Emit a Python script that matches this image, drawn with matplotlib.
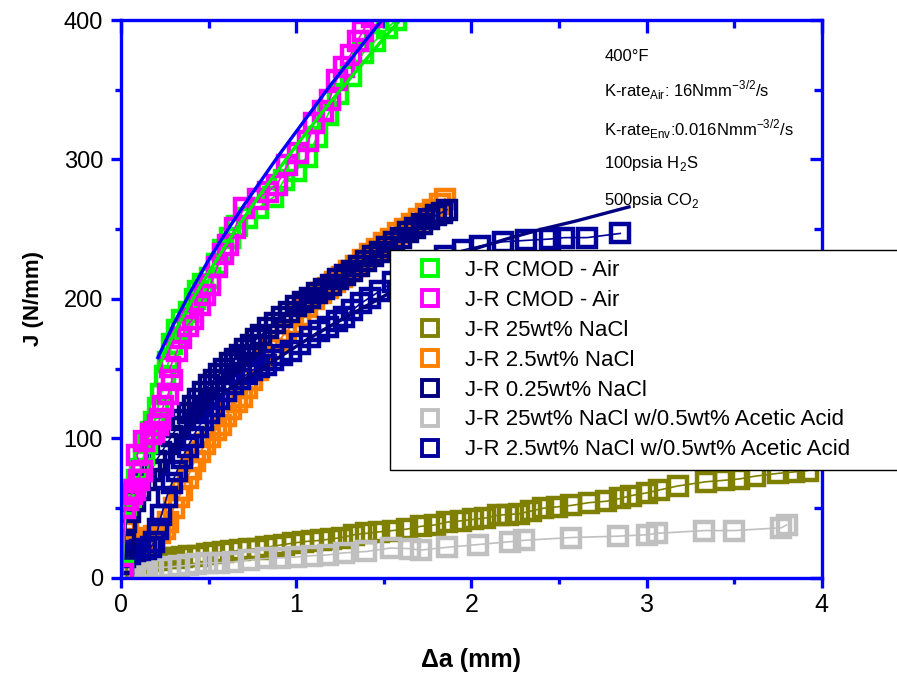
import matplotlib.pyplot as plt
from matplotlib.ticker import MultipleLocator

plt.rcParams['font.family'] = ['Liberation Sans', 'DejaVu Sans']
plt.rcParams['mathtext.fontset'] = 'custom'
plt.rcParams['mathtext.rm'] = 'Liberation Sans'

# J-R CMOD - Air (green)
air1_x = [0.01, 0.03, 0.05, 0.07, 0.09, 0.11, 0.13, 0.15, 0.17, 0.19, 0.21, 0.23, 0.25, 0.27, 0.29, 0.32, 0.35, 0.39,
          0.42, 0.44, 0.47, 0.51, 0.55, 0.58, 0.62, 0.66, 0.72, 0.78, 0.87, 0.93, 1.00, 1.06, 1.12, 1.18, 1.24, 1.31,
          1.38, 1.45, 1.52, 1.57, 1.63]
air1_y = [5, 52, 58, 63, 70, 78, 88, 97, 105, 112, 122, 132, 145, 155, 168, 178, 185, 191,
          200, 206, 211, 215, 225, 235, 244, 252, 258, 265, 273, 285, 292, 302, 316, 332, 347, 360,
          376, 385, 394, 400, 408]
# J-R CMOD - Air (magenta)
air2_x = [0.01, 0.02, 0.04, 0.06, 0.08, 0.10, 0.12, 0.09, 0.13, 0.17, 0.19, 0.21, 0.22, 0.24, 0.27, 0.29, 0.28, 0.32,
          0.34, 0.38, 0.41, 0.45, 0.48, 0.51, 0.55, 0.58, 0.61, 0.65, 0.70, 0.78, 0.84, 0.89, 0.95, 1.01, 1.07, 1.10,
          1.15, 1.19, 1.23, 1.27, 1.31, 1.35, 1.38, 1.43]
air2_y = [3, 50, 56, 60, 63, 70, 77, 88, 98, 103, 105, 110, 114, 123, 132, 142, 151, 163,
          172, 181, 186, 196, 203, 210, 223, 232, 239, 251, 265, 272, 277, 282, 296, 305, 313, 326,
          335, 343, 357, 366, 375, 385, 392, 402]
# J-R 25wt% NaCl
na25_x = [0.01, 0.04, 0.08, 0.13, 0.18, 0.22, 0.26, 0.30, 0.35, 0.39, 0.44, 0.49, 0.53, 0.58, 0.63, 0.68, 0.73, 0.78,
          0.83, 0.88, 0.93, 0.98, 1.04, 1.09, 1.14, 1.20, 1.26, 1.33, 1.40, 1.47, 1.55, 1.63, 1.71, 1.79, 1.86, 1.94,
          2.01, 2.08, 2.15, 2.21, 2.27, 2.34, 2.41, 2.49, 2.57, 2.67, 2.77, 2.85, 2.91, 3.00, 3.07, 3.18, 3.34, 3.44,
          3.53, 3.62, 3.75, 3.84, 3.92]
na25_y = [2, 5, 8, 11, 12, 13, 14, 14.5, 15, 15.5, 16, 17, 18, 18.5, 19, 20, 20.5, 21,
          22, 23, 24, 25, 26, 26.5, 27, 28, 29, 31, 32, 33, 34, 35, 37, 38, 40, 41,
          42, 43, 45, 45.5, 46, 48, 50, 51, 52, 54, 55, 57, 59, 61, 63, 66, 69, 70,
          71, 73, 75, 76, 77]
# J-R 2.5wt% NaCl
na2p5_x = [0.02, 0.04, 0.06, 0.08, 0.10, 0.13, 0.16, 0.19, 0.22, 0.25, 0.27, 0.30, 0.33, 0.35, 0.38, 0.40, 0.42, 0.45,
           0.48, 0.51, 0.54, 0.57, 0.60, 0.63, 0.66, 0.69, 0.72, 0.75, 0.78, 0.82, 0.86, 0.90, 0.94, 0.98, 1.02, 1.06,
           1.10, 1.14, 1.18, 1.22, 1.26, 1.30, 1.34, 1.38, 1.42, 1.46, 1.50, 1.54, 1.58, 1.62, 1.66, 1.70, 1.74, 1.78,
           1.82, 1.85]
na2p5_y = [38, 33, 28, 27, 27, 28, 29, 30, 32, 35, 40, 50, 58, 63, 72, 78, 84, 90,
           96, 101, 106, 110, 116, 121, 126, 130, 136, 142, 149, 158, 164, 170, 176, 182, 188, 194,
           200, 204, 208, 212, 216, 220, 224, 228, 232, 236, 240, 243, 247, 250, 254, 257, 261, 264,
           268, 272]
# J-R 0.25wt% NaCl
na025_x = [0.01, 0.02, 0.03, 0.05, 0.08, 0.11, 0.14, 0.17, 0.20, 0.23, 0.26, 0.29, 0.32, 0.35, 0.38, 0.41, 0.44, 0.47,
           0.50, 0.53, 0.56, 0.59, 0.62, 0.65, 0.68, 0.71, 0.74, 0.77, 0.80, 0.84, 0.88, 0.92, 0.96, 1.00, 1.04, 1.08,
           1.12, 1.16, 1.20, 1.24, 1.28, 1.32, 1.36, 1.40, 1.44, 1.48, 1.52, 1.56, 1.60, 1.64, 1.68, 1.72, 1.76, 1.80,
           1.83, 1.86]
na025_y = [10, 25, 40, 47, 55, 63, 70, 77, 84, 90, 96, 102, 108, 113, 118, 123, 128, 133,
           138, 142, 146, 150, 154, 157, 160, 164, 167, 171, 174, 179, 183, 187, 191, 195, 198, 201,
           204, 207, 210, 214, 217, 220, 224, 227, 231, 234, 237, 241, 244, 248, 251, 254, 257, 260,
           262, 264]
# J-R 25wt% NaCl w/0.5wt% Acetic Acid
ac25_x = [0.02, 0.06, 0.11, 0.15, 0.18, 0.23, 0.28, 0.33, 0.38, 0.43, 0.49, 0.56, 0.64, 0.73, 0.83, 0.91, 1.00, 1.09,
          1.18, 1.27, 1.40, 1.54, 1.65, 1.71, 1.86, 2.04, 2.22, 2.30, 2.57, 2.84, 3.00, 3.06, 3.33, 3.50, 3.77, 3.80]
ac25_y = [4, 5, 6, 6.5, 7, 7.5, 8, 8.5, 9, 10, 10.7, 11, 11.5, 13, 14, 14.5, 15, 16,
          16.5, 18, 19, 21.5, 21, 20, 22, 24, 26, 27, 29, 30, 31, 32, 34, 34, 36, 38]
# J-R 2.5wt% NaCl w/0.5wt% Acetic Acid
ac2p5_x = [0.02, 0.05, 0.08, 0.11, 0.14, 0.17, 0.19, 0.21, 0.23, 0.26, 0.29, 0.32, 0.35, 0.38, 0.41, 0.44, 0.47, 0.50,
           0.53, 0.56, 0.60, 0.64, 0.68, 0.72, 0.75, 0.79, 0.83, 0.87, 0.92, 0.97, 1.02, 1.08, 1.13, 1.18, 1.23, 1.27,
           1.32, 1.37, 1.42, 1.48, 1.55, 1.65, 1.75, 1.85, 1.95, 2.05, 2.18, 2.31, 2.45, 2.53, 2.66, 2.85]
ac2p5_y = [15, 17, 19, 20, 21, 22, 26, 35, 45, 58, 68, 77, 86, 94, 101, 108, 113, 118,
           123, 128, 134, 139, 143, 146, 149, 151, 153, 156, 160, 163, 168, 173, 177, 180, 184, 187,
           192, 197, 201, 206, 212, 220, 226, 231, 235, 238, 241, 242, 243, 244, 244, 247]

# fitted curves
fit_air1_x = [0.21, 0.30, 0.40, 0.50, 0.60, 0.70, 0.80, 0.90, 1.00, 1.10, 1.20, 1.30, 1.40, 1.50, 1.60]
fit_air1_y = [150, 175, 198, 219, 239, 258, 276, 293, 310, 326, 342, 357, 372, 387, 401]
fit_air2_x = [0.21, 0.30, 0.40, 0.50, 0.60, 0.70, 0.80, 0.90, 1.00, 1.10, 1.20, 1.30, 1.40, 1.49]
fit_air2_y = [158, 182, 206, 228, 248, 267, 285, 303, 320, 337, 354, 370, 386, 400]
fit_ac_x = [0.45, 0.60, 0.75, 0.90, 1.05, 1.20, 1.40, 1.60, 1.80, 2.02, 2.20, 2.40, 2.60, 2.75, 2.90]
fit_ac_y = [122, 134, 146, 158, 170, 181, 195, 209, 223, 236, 243, 250, 256, 261, 266]

labels = ['J-R CMOD - Air', 'J-R CMOD - Air', 'J-R 25wt% NaCl', 'J-R 2.5wt% NaCl',
          'J-R 0.25wt% NaCl', 'J-R 25wt% NaCl w/0.5wt% Acetic Acid',
          'J-R 2.5wt% NaCl w/0.5wt% Acetic Acid']
colors = ['#00FF00', '#FF00FF', '#808000', '#FF8000', '#000080', '#C0C0C0', '#00009A']
series = [(air1_x, air1_y), (air2_x, air2_y), (na25_x, na25_y), (na2p5_x, na2p5_y),
          (na025_x, na025_y), (ac25_x, ac25_y), (ac2p5_x, ac2p5_y)]

fig = plt.figure(figsize=(8.97, 6.78), dpi=100)
ax = fig.add_axes([0.135, 0.1475, 0.781, 0.823])

order = [2, 5, 3, 6, 4, 0, 1]
for i in order:
    x, y = series[i]
    ax.plot(x, y, '-', color=colors[i], lw=1.2, marker='s', ms=12.5, mew=3.2,
            mfc='none', mec=colors[i])
ax.plot(fit_air1_x, fit_air1_y, '-', color='#00EE00', lw=2.4)
ax.plot(fit_air2_x, fit_air2_y, '-', color='#0000FF', lw=2.4)
ax.plot(fit_ac_x, fit_ac_y, '-', color='#000080', lw=2.4)

handles = [plt.Line2D([], [], ls='none', marker='s', ms=11, mew=2.8, mfc='none', mec=c)
           for c in colors]

ax.set_xlim(0, 4)
ax.set_ylim(0, 400)
ax.xaxis.set_major_locator(MultipleLocator(1))
ax.xaxis.set_minor_locator(MultipleLocator(0.5))
ax.yaxis.set_major_locator(MultipleLocator(100))
ax.yaxis.set_minor_locator(MultipleLocator(50))
for s in ax.spines.values():
    s.set_color('#0000FF')
    s.set_linewidth(2.4)
ax.tick_params(which='both', direction='out', color='#0000FF', width=2.4)
ax.tick_params(which='major', length=7)
ax.tick_params(which='minor', length=4)
ax.tick_params(axis='x', labelsize=18, pad=4)
ax.tick_params(axis='y', labelsize=17, pad=6)

top = ax.secondary_xaxis('top')
top.xaxis.set_major_locator(MultipleLocator(1))
top.xaxis.set_minor_locator(MultipleLocator(0.5))
top.tick_params(which='both', direction='in', color='#0000FF', width=2.4, labeltop=False)
top.tick_params(which='major', length=9)
top.tick_params(which='minor', length=6)
top.spines['top'].set_visible(False)
right = ax.secondary_yaxis('right')
right.yaxis.set_major_locator(MultipleLocator(100))
right.yaxis.set_minor_locator(MultipleLocator(50))
right.tick_params(which='both', direction='in', color='#0000FF', width=2.4, labelright=False)
right.tick_params(which='major', length=9)
right.tick_params(which='minor', length=6)
right.spines['right'].set_visible(False)

ax.set_xlabel('Δa (mm)', fontsize=18, fontweight='bold', labelpad=22)
ax.set_ylabel('J (N/mm)', fontsize=16, fontweight='bold', labelpad=14)

tx = 0.69
fs = 12
ax.text(tx, 0.935, '400°F', transform=ax.transAxes, fontsize=fs, va='center')
ax.text(tx, 0.875, r'K-rate$_{\mathrm{Air}}$: 16Nmm$^{\mathrm{-3/2}}$/s', transform=ax.transAxes, fontsize=fs, va='center')
ax.text(tx, 0.805, r'K-rate$_{\mathrm{Env}}$:0.016Nmm$^{\mathrm{-3/2}}$/s', transform=ax.transAxes, fontsize=fs, va='center')
ax.text(tx, 0.742, r'100psia H$_{\mathrm{2}}$S', transform=ax.transAxes, fontsize=fs, va='center')
ax.text(tx, 0.676, r'500psia CO$_{\mathrm{2}}$', transform=ax.transAxes, fontsize=fs, va='center')

leg = fig.legend(handles, labels, loc='upper left', mode='expand',
                 bbox_to_anchor=(390 / 897, 1 - 472 / 678, 530 / 897, 222 / 678),
                 fontsize=16, frameon=True, fancybox=False, borderaxespad=0,
                 handletextpad=0.23, labelspacing=0.40, borderpad=0.45, handlelength=2.7)
leg.get_frame().set_edgecolor('black')
leg.get_frame().set_linewidth(1.0)
leg.get_frame().set_alpha(1)

plt.savefig('out.png', dpi=100)
